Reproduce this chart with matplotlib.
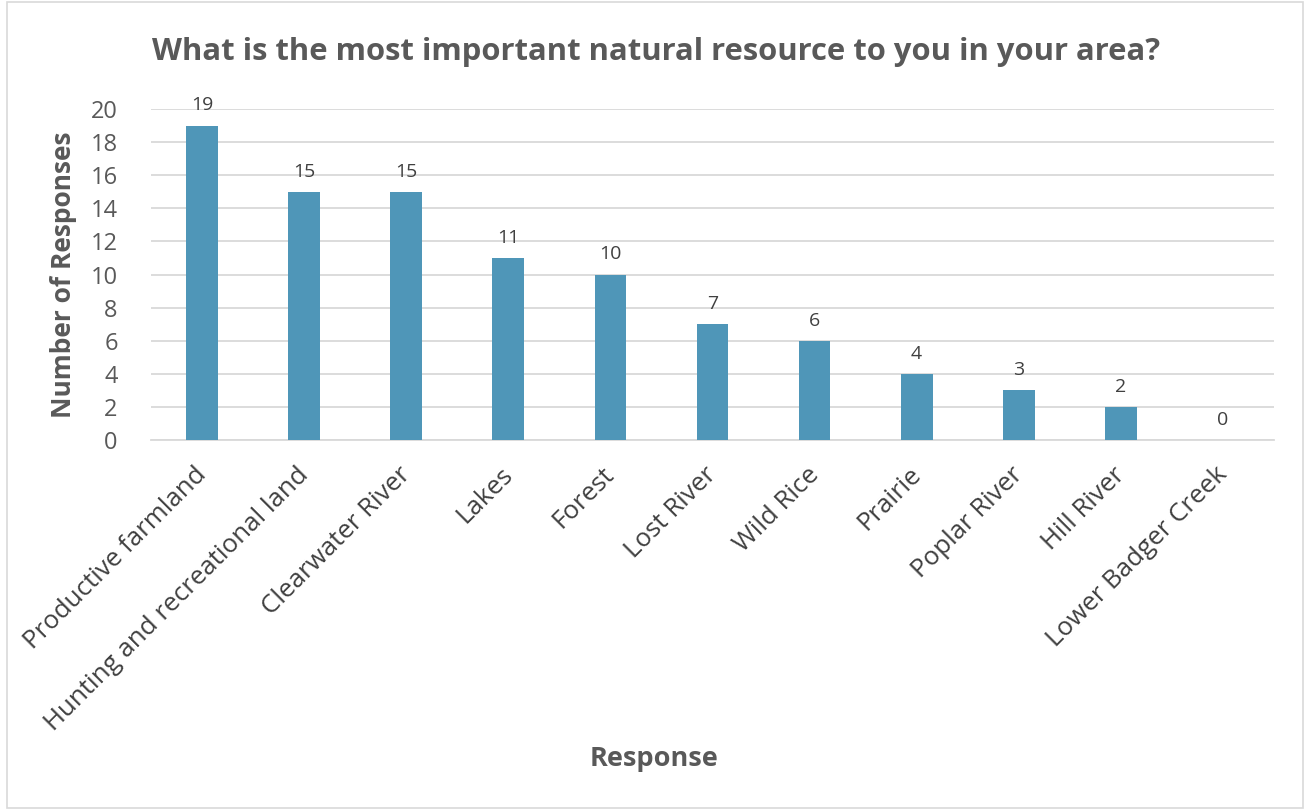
import matplotlib.pyplot as plt
from matplotlib.patches import Rectangle
from matplotlib.transforms import ScaledTranslation


CATEGORIES = [
    "Productive farmland",
    "Hunting and recreational land",
    "Clearwater River",
    "Lakes",
    "Forest",
    "Lost River",
    "Wild Rice",
    "Prairie",
    "Poplar River",
    "Hill River",
    "Lower Badger Creek",
]
RESPONSES = [19, 15, 15, 11, 10, 7, 6, 4, 3, 2, 0]
Y_TICKS = [0, 2, 4, 6, 8, 10, 12, 14, 16, 18, 20]

TITLE = "What is the most important natural resource to you in your area?"
BAR_COLOR = "#4F96B8"
TEXT_DARK = "#404040"
TEXT_GRAY = "#595959"
GRID_COLOR = "#D9D9D9"


def setup_style() -> None:
    plt.rcParams.update(
        {
            "font.family": ["Open Sans", "DejaVu Sans"],
            "axes.spines.top": False,
            "axes.spines.right": False,
            "axes.spines.left": False,
        }
    )


def main() -> None:
    setup_style()
    fig = plt.figure(figsize=(13.05, 8.1), dpi=100)
    ax = fig.add_axes([151 / 1305, 1 - 440 / 810, 1123 / 1305, 331 / 810])

    x = list(range(len(CATEGORIES)))
    bars = ax.bar(x, RESPONSES, width=0.31, color=BAR_COLOR, zorder=3)

    for rect, value in zip(bars, RESPONSES):
        ax.annotate(
            str(value),
            (rect.get_x() + rect.get_width() / 2, rect.get_height()),
            xytext=(0, 8),
            textcoords="offset points",
            ha="center",
            va="bottom",
            fontsize=14,
            color=TEXT_DARK,
        )

    ax.set_xlim(-0.5, len(CATEGORIES) - 0.5)
    ax.set_ylim(0, 20)
    ax.set_yticks(Y_TICKS)
    ax.yaxis.grid(True, color=GRID_COLOR, linewidth=1.3, zorder=0)
    ax.spines["bottom"].set_color(GRID_COLOR)
    ax.spines["bottom"].set_linewidth(1.3)
    ax.tick_params(axis="y", length=0, pad=24, labelsize=17, labelcolor=TEXT_GRAY)
    ax.tick_params(axis="x", length=0, pad=16)
    ax.set_xticks(x)
    ax.set_xticklabels(
        CATEGORIES,
        rotation=45,
        ha="right",
        va="top",
        rotation_mode="anchor",
        fontsize=18.6,
        color=TEXT_DARK,
    )
    shift = ScaledTranslation(-6 / 72, 0, fig.dpi_scale_trans)
    for label in ax.get_xticklabels():
        label.set_transform(label.get_transform() + shift)

    ax.set_ylabel("Number of Responses", fontsize=19, fontweight="bold", color=TEXT_GRAY, labelpad=10)
    fig.text(654 / 1305, 1 - 759 / 810, "Response", ha="center", va="center",
             fontsize=19.5, fontweight="bold", color=TEXT_GRAY)
    fig.text(656 / 1305, 1 - 52 / 810, TITLE, ha="center", va="center",
             fontsize=22.3, fontweight="bold", color=TEXT_GRAY)

    fig.patches.append(
        Rectangle((7 / 1305, 2 / 810), 1296 / 1305, 806 / 810, transform=fig.transFigure,
                  fill=False, edgecolor=GRID_COLOR, linewidth=1.2)
    )

    fig.savefig("out.png", dpi=100)
    plt.close(fig)


if __name__ == "__main__":
    main()
